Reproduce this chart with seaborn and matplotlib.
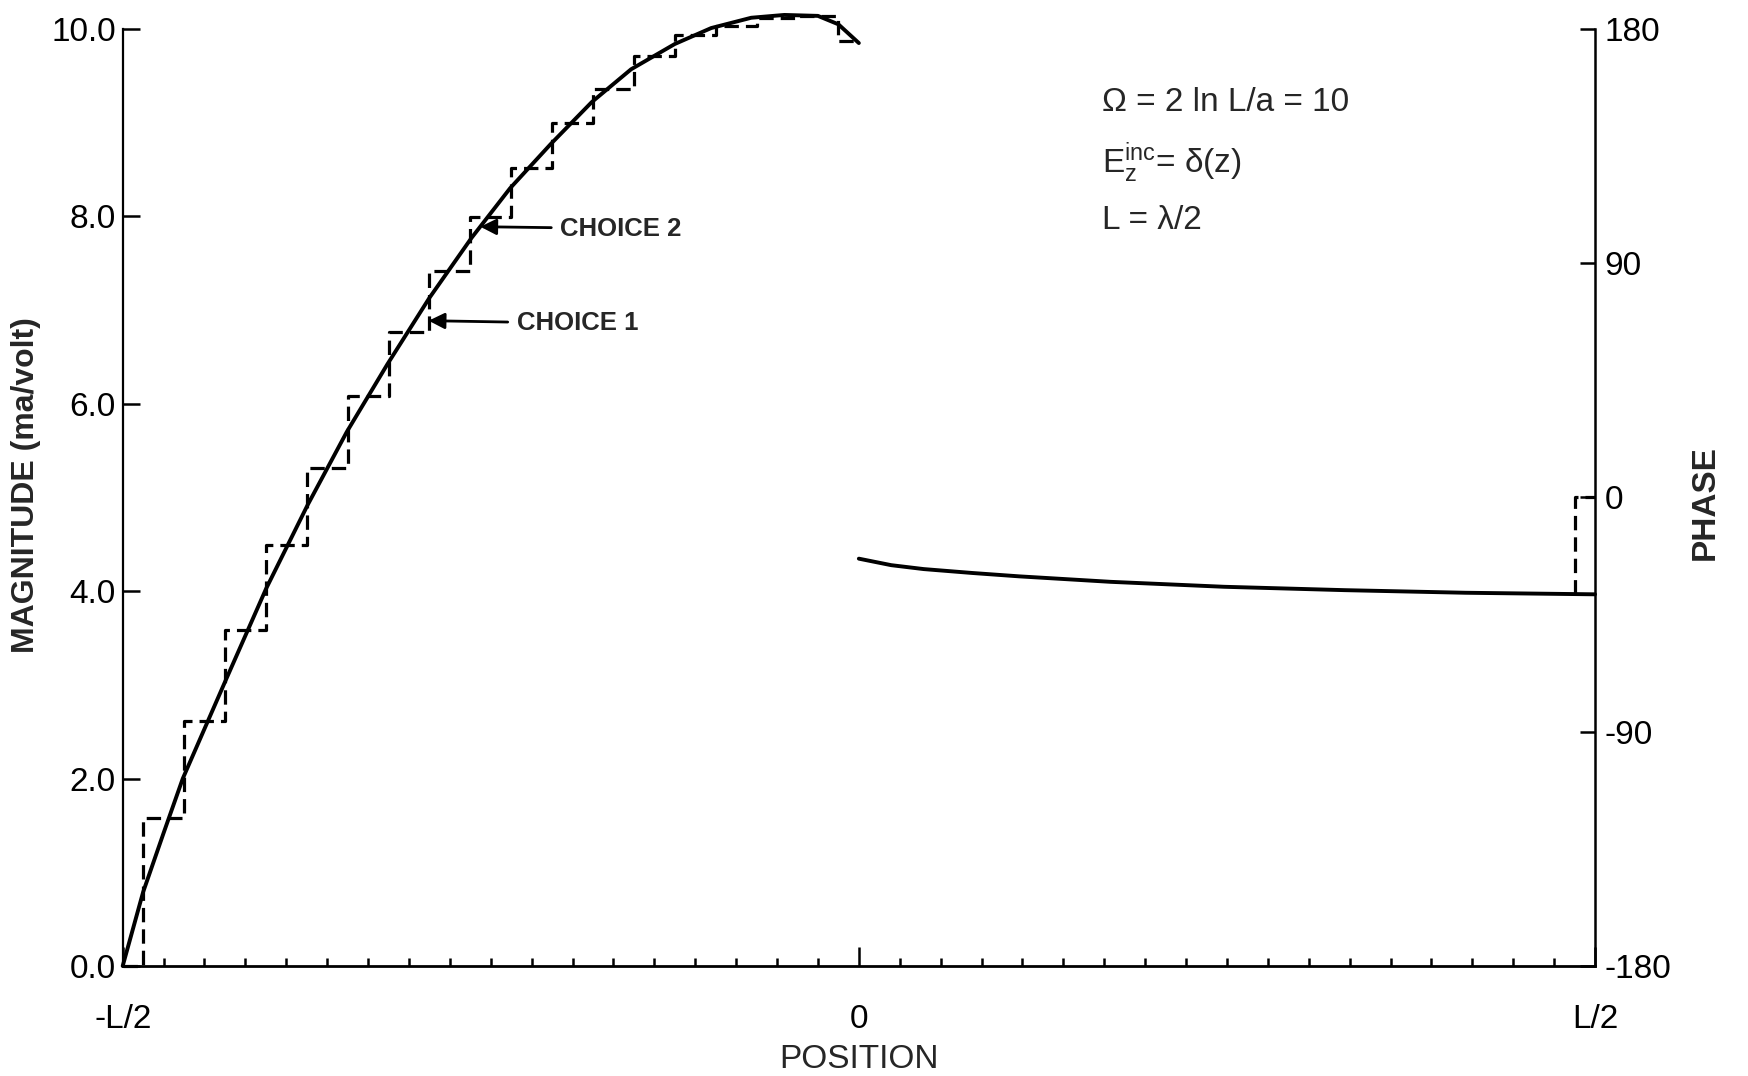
import matplotlib
matplotlib.use("Agg")
import matplotlib.pyplot as plt
import seaborn as sns

# ---------------- data ----------------
# magnitude curve (position in units of L, magnitude in ma/volt)
mag_z = [-0.5, -0.4861, -0.4722, -0.4592, -0.4303, -0.4025, -0.3744, -0.3478,
         -0.3203, -0.2917, -0.2631, -0.2369, -0.2094, -0.1814, -0.1547, -0.1250,
         -0.1003, -0.0731, -0.0506, -0.0278, -0.0139, 0.0]
mag_val = [0.0, 0.79, 1.42, 2.00, 3.04, 4.03, 4.92, 5.70,
           6.42, 7.13, 7.77, 8.30, 8.77, 9.22, 9.57, 9.84,
           10.01, 10.12, 10.15, 10.14, 10.05, 9.85]

# pulse (staircase) approximation: one value per segment on the left half
n_seg_half = 18
step_val = [0.0, 1.58, 2.61, 3.59, 4.49, 5.31, 6.08, 6.77, 7.42, 7.99,
            8.52, 9.00, 9.36, 9.71, 9.94, 10.03, 10.12, 10.14, 9.87]

# phase curve on the right half (degrees)
phase_z = [0.0, 0.022, 0.044, 0.077, 0.109, 0.171, 0.248, 0.330, 0.412, 0.5]
phase_val = [-23.5, -26.0, -27.5, -29.0, -30.3, -32.4, -34.3, -35.6, -36.6, -37.2]
# staircase phase of the last two segments at the right end
phase_step_val = [-37.2, 0.0]

x_tick_pos = [-0.5, 0.0, 0.5]
x_tick_lab = ["-L/2", "0", "L/2"]
mag_ticks = [0, 2, 4, 6, 8, 10]
mag_tick_lab = ["0.0", "2.0", "4.0", "6.0", "8.0", "10.0"]
phase_ticks = [-180, -90, 0, 90, 180]
phase_tick_lab = ["-180", "-90", "0", "90", "180"]

# ---------------- style ----------------
sns.set_theme(style="white")
plt.rcParams["font.family"] = ["Liberation Sans", "DejaVu Sans"]
plt.rcParams["axes.edgecolor"] = "black"

fig = plt.figure(figsize=(17.49, 10.76), dpi=100)
ax = fig.add_axes([0.07015, 0.10223, 0.8418, 0.87082])
ax2 = ax.twinx()

w = 0.5 / n_seg_half  # segment width in L
step_x = [-0.5] + [-0.5 + (k - 0.5) * w for k in range(1, n_seg_half + 1)] + [0.0]
step_y = step_val + [step_val[-1]]

LW = 2.8
DASH = (0, (4.5, 2.2))

sns.lineplot(x=step_x, y=step_y, ax=ax, color="black", linewidth=2.3,
             linestyle=DASH, drawstyle="steps-post", estimator=None, sort=False)
sns.lineplot(x=mag_z, y=mag_val, ax=ax, color="black", linewidth=LW,
             estimator=None, sort=False)

sns.lineplot(x=phase_z, y=phase_val, ax=ax2, color="black", linewidth=LW,
             estimator=None, sort=False)
e = 0.5 - 0.5 * w
sns.lineplot(x=[e, e, 0.5], y=[phase_step_val[0], phase_step_val[1], phase_step_val[1]],
             ax=ax2, color="black", linewidth=2.3, linestyle=DASH,
             estimator=None, sort=False)

for a in (ax, ax2):
    for ln in a.lines:
        ln.set_clip_on(False)

# ---------------- axes ----------------
ax.set_xlim(-0.5, 0.5)
ax.set_ylim(0, 10)
ax2.set_ylim(-180, 180)

for a in (ax, ax2):
    a.grid(False)
    a.spines["top"].set_visible(False)
ax.spines["right"].set_visible(False)
ax2.spines["left"].set_visible(False)
ax2.spines["bottom"].set_visible(False)
ax.spines["left"].set_linewidth(1.6)
ax.spines["bottom"].set_linewidth(2.0)
ax2.spines["right"].set_linewidth(1.8)

ax.set_xticks(x_tick_pos)
ax.set_xticklabels(x_tick_lab)
ax.set_xticks([-0.5 + k * w for k in range(1, 2 * n_seg_half) if k != n_seg_half], minor=True)
ax.tick_params(axis="x", which="major", direction="in", length=14, width=1.8,
               pad=27, labelsize=24, bottom=True, colors="black")
ax.tick_params(axis="x", which="minor", direction="in", length=6, width=1.8,
               bottom=True, colors="black")

ax.set_yticks(mag_ticks)
ax.set_yticklabels(mag_tick_lab)
ax.tick_params(axis="y", which="major", direction="in", length=12.5, width=1.8,
               pad=5, labelsize=24, left=True, colors="black")

ax2.set_yticks(phase_ticks)
ax2.set_yticklabels(phase_tick_lab)
ax2.tick_params(axis="y", which="major", direction="in", length=11, width=1.8,
                pad=7, labelsize=24, right=True, colors="black")

ax.set_xlabel("POSITION", fontsize=24)
ax.xaxis.set_label_coords(0.5, -0.0832)
ax.set_ylabel("MAGNITUDE (ma/volt)", fontsize=23, fontweight="bold")
ax.yaxis.set_label_coords(-0.0555, 0.513)
ax2.set_ylabel("PHASE", fontsize=24, fontweight="bold")
ax2.yaxis.set_label_coords(1.0645, 0.495)

# ---------------- annotations ----------------
ax.text(0.165, 9.12, "Ω = 2 ln L/a = 10", fontsize=24, ha="left", va="baseline")
ax.text(0.165, 8.47, r"$\mathregular{E_z^{inc}}$= δ(z)", fontsize=24, ha="left", va="baseline")
ax.text(0.165, 7.87, "L = λ/2", fontsize=24, ha="left", va="baseline")

arrow = dict(arrowstyle="-|>", color="black", lw=2.0, mutation_scale=24,
             shrinkA=4, shrinkB=0)
ax.annotate("CHOICE 2", xy=(-0.2571, 7.89), xytext=(-0.2029, 7.87),
            fontsize=18.5, fontweight="bold", ha="left", va="center",
            arrowprops=arrow)
ax.annotate("CHOICE 1", xy=(-0.2922, 6.887), xytext=(-0.2325, 6.86),
            fontsize=18.5, fontweight="bold", ha="left", va="center",
            arrowprops=arrow)

fig.savefig("out.png", dpi=100, facecolor="white")
